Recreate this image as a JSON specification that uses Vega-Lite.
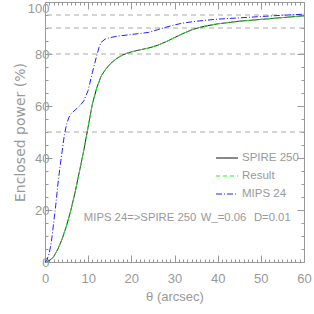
{
  "$schema": "https://vega.github.io/schema/vega-lite/v6.json",
  "width": 259,
  "height": 260,
  "autosize": "none",
  "padding": {"left": 45, "top": 2, "right": 10, "bottom": 52},
  "config": {
    "view": {"stroke": null},
    "font": "Liberation Sans",
    "axis": {
      "domainColor": "#999999",
      "tickColor": "#999999",
      "labelColor": "#999999",
      "titleColor": "#999999",
      "labelFontSize": 13,
      "titleFontSize": 13,
      "titleFontWeight": "normal",
      "grid": false,
      "labelOverlap": false,
      "labelFlush": false
    }
  },
  "datasets": {
    "grid": [{"g": 50}, {"g": 80}, {"g": 90}, {"g": 95}],
    "curves": [
      {"series": "SPIRE 250", "theta": 0, "value": 0},
      {"series": "SPIRE 250", "theta": 1, "value": 0.5},
      {"series": "SPIRE 250", "theta": 2, "value": 2},
      {"series": "SPIRE 250", "theta": 3, "value": 5},
      {"series": "SPIRE 250", "theta": 4, "value": 9},
      {"series": "SPIRE 250", "theta": 5, "value": 14},
      {"series": "SPIRE 250", "theta": 6, "value": 20},
      {"series": "SPIRE 250", "theta": 7, "value": 27},
      {"series": "SPIRE 250", "theta": 8, "value": 35},
      {"series": "SPIRE 250", "theta": 9, "value": 43},
      {"series": "SPIRE 250", "theta": 10, "value": 52},
      {"series": "SPIRE 250", "theta": 11, "value": 61},
      {"series": "SPIRE 250", "theta": 12, "value": 67},
      {"series": "SPIRE 250", "theta": 13, "value": 71.5},
      {"series": "SPIRE 250", "theta": 14, "value": 74},
      {"series": "SPIRE 250", "theta": 15, "value": 76},
      {"series": "SPIRE 250", "theta": 16, "value": 77.5},
      {"series": "SPIRE 250", "theta": 17, "value": 78.7},
      {"series": "SPIRE 250", "theta": 18, "value": 79.6},
      {"series": "SPIRE 250", "theta": 19, "value": 80.3},
      {"series": "SPIRE 250", "theta": 20, "value": 80.8},
      {"series": "SPIRE 250", "theta": 22, "value": 81.6},
      {"series": "SPIRE 250", "theta": 24, "value": 82.3},
      {"series": "SPIRE 250", "theta": 26, "value": 83.3},
      {"series": "SPIRE 250", "theta": 28, "value": 84.7},
      {"series": "SPIRE 250", "theta": 30, "value": 86.3},
      {"series": "SPIRE 250", "theta": 32, "value": 87.9},
      {"series": "SPIRE 250", "theta": 34, "value": 89.3},
      {"series": "SPIRE 250", "theta": 36, "value": 90.3},
      {"series": "SPIRE 250", "theta": 38, "value": 91},
      {"series": "SPIRE 250", "theta": 40, "value": 91.6},
      {"series": "SPIRE 250", "theta": 45, "value": 92.6},
      {"series": "SPIRE 250", "theta": 50, "value": 93.3},
      {"series": "SPIRE 250", "theta": 55, "value": 94},
      {"series": "SPIRE 250", "theta": 60, "value": 94.7},
      {"series": "Result", "theta": 0, "value": 0},
      {"series": "Result", "theta": 1, "value": 0.5},
      {"series": "Result", "theta": 2, "value": 2},
      {"series": "Result", "theta": 3, "value": 5},
      {"series": "Result", "theta": 4, "value": 9},
      {"series": "Result", "theta": 5, "value": 14},
      {"series": "Result", "theta": 6, "value": 20},
      {"series": "Result", "theta": 7, "value": 27},
      {"series": "Result", "theta": 8, "value": 35},
      {"series": "Result", "theta": 9, "value": 43},
      {"series": "Result", "theta": 10, "value": 52},
      {"series": "Result", "theta": 11, "value": 61},
      {"series": "Result", "theta": 12, "value": 67},
      {"series": "Result", "theta": 13, "value": 71.5},
      {"series": "Result", "theta": 14, "value": 74},
      {"series": "Result", "theta": 15, "value": 76},
      {"series": "Result", "theta": 16, "value": 77.5},
      {"series": "Result", "theta": 17, "value": 78.7},
      {"series": "Result", "theta": 18, "value": 79.6},
      {"series": "Result", "theta": 19, "value": 80.3},
      {"series": "Result", "theta": 20, "value": 80.8},
      {"series": "Result", "theta": 22, "value": 81.6},
      {"series": "Result", "theta": 24, "value": 82.3},
      {"series": "Result", "theta": 26, "value": 83.3},
      {"series": "Result", "theta": 28, "value": 84.7},
      {"series": "Result", "theta": 30, "value": 86.3},
      {"series": "Result", "theta": 32, "value": 87.9},
      {"series": "Result", "theta": 34, "value": 89.3},
      {"series": "Result", "theta": 36, "value": 90.3},
      {"series": "Result", "theta": 38, "value": 91},
      {"series": "Result", "theta": 40, "value": 91.6},
      {"series": "Result", "theta": 45, "value": 92.6},
      {"series": "Result", "theta": 50, "value": 93.3},
      {"series": "Result", "theta": 55, "value": 94},
      {"series": "Result", "theta": 60, "value": 94.7},
      {"series": "MIPS 24", "theta": 0, "value": 0},
      {"series": "MIPS 24", "theta": 0.5, "value": 1},
      {"series": "MIPS 24", "theta": 1, "value": 3.5},
      {"series": "MIPS 24", "theta": 1.5, "value": 8},
      {"series": "MIPS 24", "theta": 2, "value": 15},
      {"series": "MIPS 24", "theta": 2.5, "value": 22},
      {"series": "MIPS 24", "theta": 3, "value": 30},
      {"series": "MIPS 24", "theta": 3.5, "value": 37},
      {"series": "MIPS 24", "theta": 4, "value": 43},
      {"series": "MIPS 24", "theta": 4.5, "value": 49},
      {"series": "MIPS 24", "theta": 5, "value": 53},
      {"series": "MIPS 24", "theta": 5.5, "value": 55.5},
      {"series": "MIPS 24", "theta": 6, "value": 57},
      {"series": "MIPS 24", "theta": 7, "value": 58.5},
      {"series": "MIPS 24", "theta": 8, "value": 60},
      {"series": "MIPS 24", "theta": 9, "value": 62},
      {"series": "MIPS 24", "theta": 10, "value": 66},
      {"series": "MIPS 24", "theta": 11, "value": 73},
      {"series": "MIPS 24", "theta": 12, "value": 79.5},
      {"series": "MIPS 24", "theta": 12.5, "value": 82.5},
      {"series": "MIPS 24", "theta": 13, "value": 84.5},
      {"series": "MIPS 24", "theta": 14, "value": 85.8},
      {"series": "MIPS 24", "theta": 15, "value": 86.3},
      {"series": "MIPS 24", "theta": 17, "value": 86.9},
      {"series": "MIPS 24", "theta": 20, "value": 87.5},
      {"series": "MIPS 24", "theta": 22, "value": 87.9},
      {"series": "MIPS 24", "theta": 24, "value": 88.3},
      {"series": "MIPS 24", "theta": 26, "value": 89.3},
      {"series": "MIPS 24", "theta": 28, "value": 90.3},
      {"series": "MIPS 24", "theta": 30, "value": 91.2},
      {"series": "MIPS 24", "theta": 32, "value": 91.9},
      {"series": "MIPS 24", "theta": 35, "value": 92.6},
      {"series": "MIPS 24", "theta": 40, "value": 93.4},
      {"series": "MIPS 24", "theta": 45, "value": 93.9},
      {"series": "MIPS 24", "theta": 50, "value": 94.4},
      {"series": "MIPS 24", "theta": 55, "value": 94.9},
      {"series": "MIPS 24", "theta": 60, "value": 95.3}
    ],
    "notes": [
      {"label": "MIPS 24=>SPIRE 250", "x": 9.0, "y": 16.9},
      {"label": "W_=0.06", "x": 36.1, "y": 16.9},
      {"label": "D=0.01", "x": 48.4, "y": 16.9}
    ]
  },
  "layer": [
    {
      "data": {"name": "grid"},
      "mark": {"type": "rule", "color": "#aaaaaa", "strokeDash": [5, 4], "strokeWidth": 1},
      "encoding": {
        "y": {
          "field": "g", "type": "quantitative",
          "scale": {"domain": [0, 100], "nice": false},
          "axis": {
            "orient": "left",
            "values": [0, 5, 10, 15, 20, 25, 30, 35, 40, 45, 50, 55, 60, 65, 70, 75, 80, 85, 90, 95, 100],
            "labelExpr": "datum.value % 20 === 0 ? datum.label : ''",
            "labelBaseline": {"condition": {"test": "datum.value === 100", "value": "top"}, "value": "middle"},
            "tickSize": {"condition": {"test": "datum.value % 20 === 0", "value": -7}, "value": -3},
            "labelPadding": 3,
            "title": "Enclosed power (%)",
            "titleFont": "DejaVu Sans",
            "titleFontSize": 14,
            "titlePadding": 0
          }
        }
      }
    },
    {
      "data": {"name": "curves"},
      "mark": {"type": "line", "strokeWidth": 1},
      "encoding": {
        "x": {
          "field": "theta", "type": "quantitative",
          "scale": {"domain": [0, 60], "nice": false},
          "axis": {
            "orient": "bottom",
            "values": [0,1,2,3,4,5,6,7,8,9,10,11,12,13,14,15,16,17,18,19,20,21,22,23,24,25,26,27,28,29,30,31,32,33,34,35,36,37,38,39,40,41,42,43,44,45,46,47,48,49,50,51,52,53,54,55,56,57,58,59,60],
            "labelExpr": "datum.value % 10 === 0 ? datum.label : ''",
            "tickSize": {"condition": {"test": "datum.value % 10 === 0", "value": -7}, "value": -3},
            "labelPadding": 17,
            "title": "θ (arcsec)",
            "titleFontSize": 13,
            "titlePadding": 1
          }
        },
        "y": {
          "field": "value", "type": "quantitative",
          "scale": {"domain": [0, 100], "nice": false},
          "axis": {
            "orient": "right",
            "values": [0, 5, 10, 15, 20, 25, 30, 35, 40, 45, 50, 55, 60, 65, 70, 75, 80, 85, 90, 95, 100],
            "labels": false,
            "tickSize": {"condition": {"test": "datum.value % 20 === 0", "value": -7}, "value": -3},
            "title": null
          }
        },
        "color": {
          "field": "series", "type": "nominal",
          "scale": {"domain": ["SPIRE 250", "Result", "MIPS 24"], "range": ["#111111", "#22ee22", "#2222ff"]},
          "legend": {
            "orient": "none", "legendX": 170, "legendY": 144, "title": null,
            "symbolType": "stroke", "symbolSize": 480, "symbolStrokeWidth": 1.2,
            "labelColor": "#999999", "labelFontSize": 11.5, "rowPadding": -4, "labelOffset": 3,
            "symbolOffset": 0, "padding": 0,
            "encode": {"symbols": {"update": {"stroke": {"signal": "datum.value === 'SPIRE 250' ? '#999999' : scale('color', datum.value)"}}}}
          }
        },
        "strokeDash": {
          "field": "series", "type": "nominal",
          "scale": {"domain": ["SPIRE 250", "Result", "MIPS 24"], "range": [[1, 0], [4, 3], [6, 2, 1, 2]]},
          "legend": {
            "orient": "none", "legendX": 170, "legendY": 144, "title": null,
            "symbolType": "stroke", "symbolSize": 480, "symbolStrokeWidth": 1.2,
            "labelColor": "#999999", "labelFontSize": 11.5, "rowPadding": -4, "labelOffset": 3,
            "symbolOffset": 0, "padding": 0
          }
        }
      }
    },
    {
      "data": {"name": "notes"},
      "mark": {"type": "text", "align": "left", "baseline": "middle", "fontSize": 11.3, "color": "#999999"},
      "encoding": {
        "x": {
          "field": "x", "type": "quantitative",
          "scale": {"domain": [0, 60], "nice": false},
          "axis": {
            "orient": "top",
            "values": [0,1,2,3,4,5,6,7,8,9,10,11,12,13,14,15,16,17,18,19,20,21,22,23,24,25,26,27,28,29,30,31,32,33,34,35,36,37,38,39,40,41,42,43,44,45,46,47,48,49,50,51,52,53,54,55,56,57,58,59,60],
            "labels": false,
            "tickSize": {"condition": {"test": "datum.value % 10 === 0", "value": -7}, "value": -3},
            "title": null
          }
        },
        "y": {
          "field": "y", "type": "quantitative",
          "scale": {"domain": [0, 100], "nice": false},
          "axis": null
        },
        "text": {"field": "label"}
      }
    }
  ],
  "resolve": {"axis": {"x": "independent", "y": "independent"}}
}
